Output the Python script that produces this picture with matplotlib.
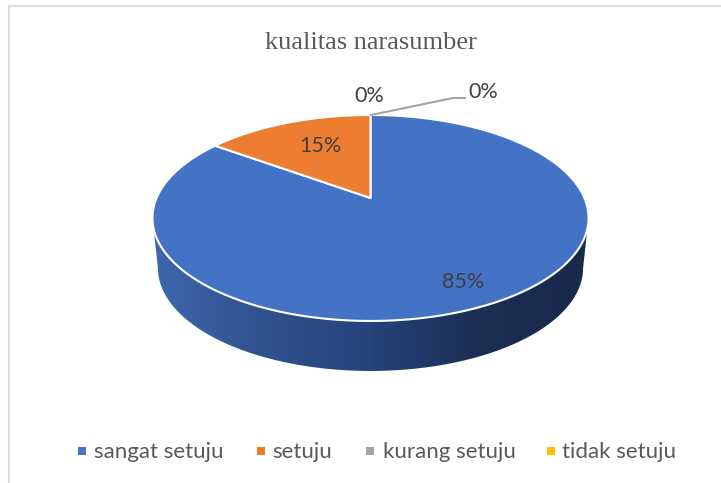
import numpy as np
import matplotlib.pyplot as plt
from matplotlib.colors import LinearSegmentedColormap
from matplotlib.patches import Polygon, Rectangle

title = 'kualitas narasumber'
categories = ['sangat setuju', 'setuju', 'kurang setuju', 'tidak setuju']
values = [85, 15, 0, 0]
colors = ['#4472C4', '#ED7D31', '#A5A5A5', '#FFC000']
labels = ['85%', '15%', '0%', '0%']

LABEL_FONT = ['Lato', 'DejaVu Sans']
TEXT_COLOR = '#404040'
LEGEND_COLOR = '#595959'

fig = plt.figure(figsize=(7.21, 4.83), dpi=100)
# whole figure is one axes in pixel units, y going down like the picture
ax = fig.add_axes([0, 0, 1, 1])
ax.axis('off')

# chart frame, only top and left are visible in the picture
ax.plot([8.5, 8.5, 721], [483, 5.5, 5.5], color='#DEDEDE', lw=1.5, solid_capstyle='butt')

cx, cy = 370.5, 198
k, a, b = 0.194, 213.9, 99.1


def project(theta):
    # theta clockwise from the top of the pie, with perspective tilt
    x = np.sin(theta)
    y = np.cos(theta)
    return cx + a * x / (1 + k * y), cy - b * y / (1 + k * y)


# side wall with a left to right shading, between the widest points of the rim
widest = np.arccos(-k)
t = np.linspace(widest, 2 * np.pi - widest, 200)
rx, ry = project(t)
side = np.column_stack([
    np.concatenate([rx, (cx + (rx - cx) * 0.975)[::-1]]),
    np.concatenate([ry, (ry + 50)[::-1]]),
])
cmap = LinearSegmentedColormap.from_list('side', ['#3F68AE', '#2F5290', '#26437A', '#1B2E54', '#18294B'])
img = ax.imshow(np.linspace(0, 1, 256).reshape(1, -1), cmap=cmap, aspect='auto',
                extent=(150, 590, 380, 200), zorder=1)
img.set_clip_path(Polygon(side, transform=ax.transData))

# pie top
start = 0.0
total = sum(values)
for value, color in zip(values, colors):
    if value == 0:
        continue
    stop = start + 2 * np.pi * value / total
    tt = np.linspace(start, stop, 300)
    px, py = project(tt)
    pts = np.column_stack([np.r_[cx, px], np.r_[cy, py]])
    ax.add_patch(Polygon(pts, closed=True, facecolor=color, edgecolor='white', lw=1.5,
                         joinstyle='round', zorder=2))
    start = stop

# data labels
label_pos = [(463.5, 281.5), (320, 146), (369, 96.5), (483, 92.5)]
for (lx, ly), label in zip(label_pos, labels):
    ax.text(lx, ly, label, ha='center', va='center', fontsize=15.5, color=TEXT_COLOR,
            family=LABEL_FONT, zorder=3)
ax.plot([371, 453, 465], [115, 98, 98], color='#A5A5A5', lw=1.5, zorder=3)

ax.text(371, 43, title, ha='center', va='center', fontsize=19, color=LEGEND_COLOR,
        family='Liberation Serif')

# legend
legend_marks = [78, 257, 366, 547]
legend_text = [94, 272, 383, 562]
for lx, tx, name, color in zip(legend_marks, legend_text, categories, colors):
    ax.add_patch(Rectangle((lx, 447), 8, 8, facecolor=color, edgecolor='none'))
    ax.text(tx, 452, name, ha='left', va='center', fontsize=16, color=LEGEND_COLOR,
            family=LABEL_FONT)

ax.set_xlim(0, 721)
ax.set_ylim(483, 0)

fig.savefig('out.png', dpi=100, facecolor='white')
